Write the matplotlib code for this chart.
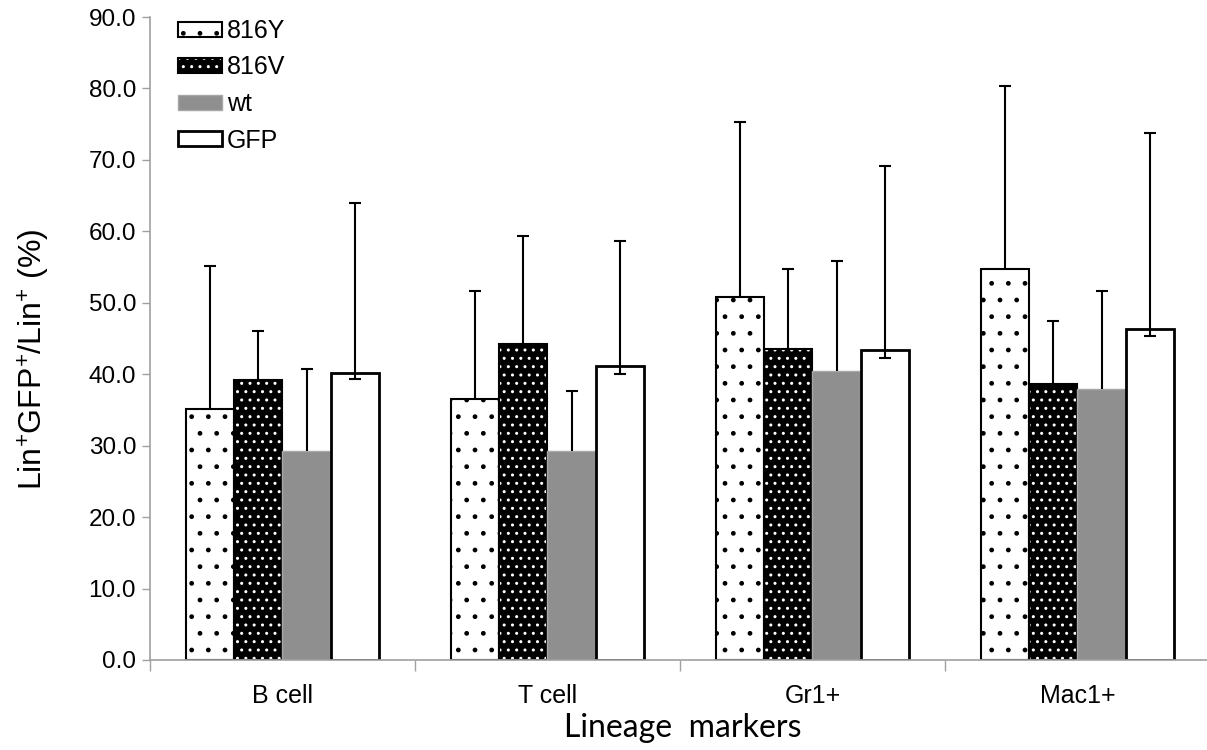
import numpy as np
import matplotlib
matplotlib.use("Agg")
import matplotlib.pyplot as plt
from matplotlib.legend_handler import HandlerTuple

plt.rcParams['font.family'] = ['Liberation Sans', 'DejaVu Sans']
plt.rcParams['mathtext.fontset'] = 'custom'
plt.rcParams['mathtext.rm'] = 'Liberation Sans'
plt.rcParams['mathtext.it'] = 'Liberation Sans'
plt.rcParams['hatch.linewidth'] = 1.0

categories = ['B cell', 'T cell', 'Gr1+', 'Mac1+']
series = ['816Y', '816V', 'wt', 'GFP']

y816 = [35.2, 36.5, 50.8, 54.7]
v816 = [39.2, 44.3, 43.6, 38.6]
wt = [29.2, 29.3, 40.5, 38.0]
gfp = [40.2, 41.1, 43.4, 46.3]

y816_err = [19.9, 15.1, 24.5, 25.6]
v816_err = [6.9, 15.1, 11.1, 8.9]
wt_err = [11.5, 8.3, 15.4, 13.7]
gfp_err = [23.7, 17.6, 25.7, 27.5]
gfp_err_low = [0.9, 1.1, 1.1, 0.9]

fig = plt.figure(figsize=(12.07, 7.5), dpi=100)
ax = fig.add_axes([150/1207, 90/750, 1061/1207, 643/750])

x = np.arange(len(categories))
w = 0.182
ekw = dict(elinewidth=1.5, capthick=1.5, capsize=4, ecolor='black', zorder=3)


def upper_err(xs, ys, err):
    # only the upper whisker, no cap at the bar top
    eb = ax.errorbar(xs, ys, yerr=[np.zeros(len(ys)), err], fmt='none', **ekw)
    eb[1][0].remove()


# 816Y: white with sparse black dots
b1 = ax.bar(x - 1.5*w, y816, w, facecolor='white', edgecolor='black', hatch='.', linewidth=1.5)
upper_err(x - 1.5*w, y816, y816_err)

# 816V: black with white dots
b2a = ax.bar(x - 0.5*w, v816, w, facecolor='black', edgecolor='white', hatch='..', linewidth=0)
b2b = ax.bar(x - 0.5*w, v816, w, fill=False, edgecolor='black', linewidth=1.5)
upper_err(x - 0.5*w, v816, v816_err)

# wt: grey
b3 = ax.bar(x + 0.5*w, wt, w, color='#8f8f8f', edgecolor='#a8a8a8', linewidth=1)
upper_err(x + 0.5*w, wt, wt_err)

# GFP: open
b4 = ax.bar(x + 1.5*w, gfp, w, facecolor='white', edgecolor='black', linewidth=2)
ax.errorbar(x + 1.5*w, gfp, yerr=[gfp_err_low, gfp_err], fmt='none', **ekw)

ax.set_xlim(-0.5, 3.5 + 4/1057)
ax.set_ylim(0, 90)
ax.set_yticks(np.arange(0, 91, 10))
ax.set_yticklabels(['%.1f' % v for v in np.arange(0, 91, 10)])

ax.set_xticks(np.arange(-0.5, 4.0, 1.0))
ax.set_xticklabels([])
ax.set_xticks(x, minor=True)
ax.set_xticklabels(categories, minor=True)
ax.tick_params(axis='x', which='major', length=8, width=1, color='#a0a0a0', direction='out')
ax.tick_params(axis='x', which='minor', length=0, pad=17, labelsize=18)
ax.tick_params(axis='y', length=6, width=1, color='#a0a0a0', direction='out', pad=4, labelsize=17.5)

for s in ['top', 'right']:
    ax.spines[s].set_visible(False)
for s in ['left', 'bottom']:
    ax.spines[s].set_color('#a0a0a0')
    ax.spines[s].set_linewidth(1.2)

ax.set_ylabel(r'Lin$^{+}$GFP$^{+}$/Lin$^{+}$ (%)', fontsize=23)
ax.yaxis.set_label_coords(-0.092, 0.467)
ax.set_xlabel('Lineage  markers', fontsize=23, family=['Lato', 'DejaVu Sans'])
ax.xaxis.set_label_coords(0.502, -0.082)

leg = ax.legend([b1, (b2a, b2b), b3, b4], series, loc='upper left',
                bbox_to_anchor=(178/1207, 731/750), bbox_transform=fig.transFigure,
                frameon=False, fontsize=18, handlelength=1.75, handleheight=0.55,
                handletextpad=0.2, labelspacing=0.5, borderpad=0, borderaxespad=0,
                handler_map={tuple: HandlerTuple(ndivide=1)})

fig.savefig('out.png', dpi=100)
